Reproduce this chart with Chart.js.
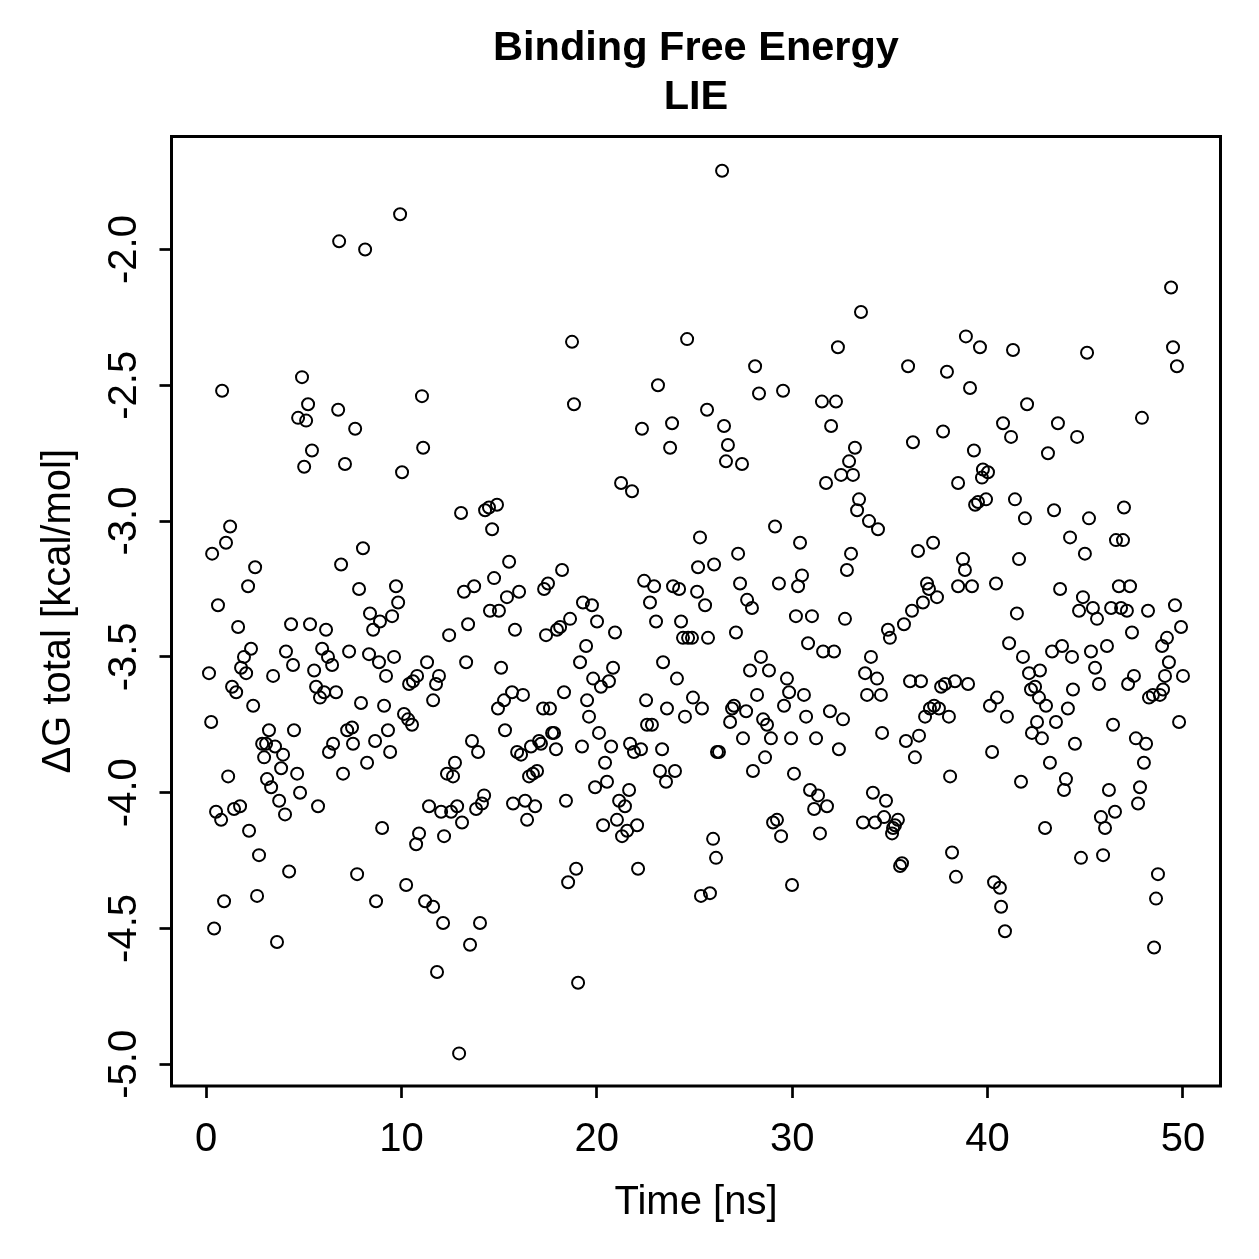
<!DOCTYPE html>
<html lang="en">
<head>
    <meta charset="UTF-8">
    <title>Binding Free Energy - LIE</title>
    <script src="https://cdn.jsdelivr.net/npm/chart.js"></script>
    <style>
        body { margin: 0; background: #fff; }
        #wrap { width: 1259px; height: 1259px; }
    </style>
</head>
<body>
<div id="wrap"><canvas id="lieChart" width="1259" height="1259"></canvas></div>

<script>
    // Time [ns] of each frame (grouped by region)
    const timeNs = [
        // upper band
        9.93,6.81,8.14,4.91,0.82,11.05,5.22,6.76,4.71,5.12,7.63,5.42,11.11,
        18.73,24.62,23.13,18.83,23.85,22.31,23.75,
        26.41,33.52,32.34,28.10,35.93,37.92,28.30,29.53,31.52,32.24,25.64,26.51,26.71,31.99,33.21,36.18,37.72,
        49.39,38.89,39.61,41.30,45.09,49.49,49.69,39.10,42.02,40.79,41.20,43.60,44.58,47.90,39.30,43.09,
        // 0 - 11 ns, middle
        5.02,7.11,10.03,1.23,1.02,0.31,8.03,6.91,2.51,2.15,
        7.83,9.72,9.83,0.61,8.39,8.90,9.52,8.55,1.64,4.35,
        5.32,6.14,2.30,1.94,4.09,5.94,6.24,6.45,4.45,7.32,
        8.34,8.85,9.62,0.15,1.79,2.05,3.43,5.53,9.21,11.31,
        10.80,10.59,10.39,1.33,1.54,5.63,6.04,5.83,6.65,2.41,
        7.93,9.11,0.26,10.13,10.34,10.54,3.22,4.50,2.87,3.07,
        3.53,3.94,2.97,3.84,7.22,7.47,7.52,6.50,6.29,8.65,
        9.31,9.42,8.24,
        // 0 - 11 ns, lower
        1.13,3.12,4.66,7.01,3.33,4.81,3.74,5.73,0.51,0.77,
        1.43,1.74,4.04,11.41,2.20,9.01,10.90,10.75,2.71,4.25,
        7.73,10.24,2.61,0.92,8.70,11.21,0.41,3.63,
        // 11 - 25 ns, lower
        12.33,12.64,16.53,16.73,16.94,23.23,24.00,23.54,12.03,12.54,
        12.85,13.10,13.82,14.12,14.23,12.18,15.71,16.33,16.84,16.43,
        18.42,19.91,20.52,21.65,21.14,21.44,21.03,20.32,21.55,21.29,
        22.06,18.94,18.53,22.11,11.62,12.13,14.02,13.51,11.82,19.04,
        12.95,
        // 25 - 39 ns, lower
        27.99,30.09,38.08,30.91,31.32,31.78,31.12,34.13,34.80,33.62,
        34.24,34.70,35.41,35.26,35.16,35.11,29.02,29.22,29.43,31.42,
        25.95,26.10,35.62,35.52,38.18,38.38,29.99,25.79,25.33,
        // 39 - 50 ns, lower
        41.71,44.01,43.91,46.21,47.80,47.70,46.52,45.80,46.01,42.94,
        45.91,44.78,48.72,48.62,48.52,40.33,40.63,40.69,40.89,
        // 11 - 25 ns, middle
        21.24,21.80,13.05,14.28,14.48,14.89,14.64,15.51,14.74,18.22,
        13.20,13.72,15.40,16.02,14.53,14.99,13.41,15.81,12.44,17.30,
        17.50,17.40,17.96,18.12,18.63,19.29,19.75,20.01,20.93,19.45,
        19.14,22.42,22.93,22.72,23.03,23.90,24.21,24.31,24.41,24.67,
        24.87,11.92,11.77,11.62,13.31,15.10,15.66,15.25,14.94,16.22,
        18.32,17.25,17.60,15.30,13.61,13.92,12.74,15.92,16.12,16.63,
        17.04,17.14,17.71,17.81,17.91,19.24,19.81,20.21,20.62,20.83,
        19.50,19.60,20.11,20.73,20.42,21.70,21.90,22.26,22.52,23.39,
        24.10,23.59,22.57,22.82,24.51,24.92,23.34,
        // 25 - 39 ns, middle
        26.61,27.43,32.91,32.50,33.11,31.73,38.49,33.42,33.32,33.93,
        34.39,29.12,25.28,30.40,27.23,26.00,25.18,33.01,32.80,36.44,
        37.21,38.74,38.84,38.49,25.13,27.33,29.32,30.50,30.30,27.69,
        27.94,25.54,36.90,37.00,37.41,36.69,36.13,35.72,34.90,35.00,
        30.19,31.01,32.70,27.12,25.69,30.81,31.58,32.14,34.03,33.73,
        34.34,33.83,34.54,28.40,27.84,28.81,29.73,29.84,30.60,29.58,
        28.20,25.38,26.92,27.02,27.64,26.82,28.51,28.71,30.71,31.93,
        32.60,27.48,28.91,29.94,31.22,34.60,36.03,36.59,37.62,37.82,
        38.33,37.05,37.26,37.51,36.80,38.02,35.82,36.49,36.28,26.25,
        26.15,28.61,32.39,
        // 39 - 50 ns, middle
        39.76,40.02,39.71,39.36,39.51,39.92,41.40,41.91,43.40,45.19,
        46.98,44.22,44.98,46.57,46.93,41.61,39.20,40.43,43.71,44.88,
        44.68,45.39,45.60,46.32,46.72,47.29,46.83,47.13,48.21,49.59,
        49.90,41.50,47.39,41.10,41.81,43.30,43.81,44.32,45.29,46.11,
        45.50,49.18,48.93,49.28,49.08,50.00,42.68,42.12,39.00,42.43,
        42.22,42.63,42.99,44.37,45.70,47.19,47.49,48.98,48.46,48.26,
        48.82,40.48,40.12,40.99,44.11,42.53,43.50,42.27,42.78,46.42,
        47.59,48.11,49.80,44.47,40.23,43.19,48.00
    ];

    // dG total [kcal/mol], same order as timeNs
    const dGTotal = [
        // upper band
        -1.87,-1.97,-2.00,-2.47,-2.52,-2.54,-2.57,-2.59,-2.62,-2.63,-2.66,-2.74,-2.73,
        -2.34,-2.33,-2.50,-2.57,-2.64,-2.66,-2.73,
        -1.71,-2.23,-2.36,-2.43,-2.43,-2.45,-2.53,-2.52,-2.56,-2.56,-2.59,-2.65,-2.72,-2.65,-2.73,-2.71,-2.67,
        -2.14,-2.32,-2.36,-2.37,-2.38,-2.36,-2.43,-2.51,-2.57,-2.64,-2.69,-2.64,-2.69,-2.62,-2.74,-2.75,
        // 0 - 11 ns, middle
        -2.80,-2.79,-2.82,-3.02,-3.08,-3.12,-3.10,-3.16,-3.17,-3.24,
        -3.25,-3.24,-3.30,-3.31,-3.34,-3.37,-3.35,-3.40,-3.39,-3.38,
        -3.38,-3.40,-3.47,-3.50,-3.48,-3.47,-3.50,-3.53,-3.53,-3.48,
        -3.49,-3.52,-3.50,-3.56,-3.54,-3.56,-3.57,-3.55,-3.57,-3.52,
        -3.57,-3.59,-3.60,-3.61,-3.63,-3.61,-3.63,-3.65,-3.63,-3.68,
        -3.67,-3.68,-3.74,-3.71,-3.73,-3.75,-3.77,-3.77,-3.82,-3.82,
        -3.83,-3.86,-3.87,-3.91,-3.77,-3.76,-3.82,-3.82,-3.85,-3.81,
        -3.77,-3.85,-3.89,
        // 0 - 11 ns, lower
        -3.94,-3.95,-3.93,-3.93,-3.98,-4.00,-4.03,-4.05,-4.07,-4.10,
        -4.06,-4.05,-4.08,-4.05,-4.14,-4.13,-4.15,-4.19,-4.23,-4.29,
        -4.30,-4.34,-4.38,-4.40,-4.40,-4.40,-4.50,-4.55,
        // 11 - 25 ns, lower
        -3.93,-3.94,-3.94,-3.93,-3.92,-3.92,-3.92,-3.96,-4.07,-4.07,
        -4.05,-4.11,-4.06,-4.04,-4.01,-4.16,-4.04,-4.03,-4.05,-4.10,
        -4.03,-3.98,-3.96,-3.99,-4.03,-4.05,-4.10,-4.12,-4.14,-4.16,
        -4.12,-4.28,-4.33,-4.28,-4.42,-4.48,-4.48,-4.56,-4.66,-4.70,
        -4.96,
        // 25 - 39 ns, lower
        -3.92,-3.93,-3.94,-3.99,-4.01,-4.05,-4.06,-4.00,-4.03,-4.11,
        -4.11,-4.09,-4.10,-4.12,-4.13,-4.15,-4.11,-4.10,-4.16,-4.15,
        -4.17,-4.24,-4.26,-4.27,-4.22,-4.31,-4.34,-4.37,-4.38,
        // 39 - 50 ns, lower
        -3.96,-3.95,-3.99,-3.99,-3.98,-4.04,-4.07,-4.09,-4.13,-4.13,
        -4.23,-4.24,-4.30,-4.39,-4.57,-4.33,-4.35,-4.42,-4.51,
        // 11 - 25 ns, middle
        -2.86,-2.89,-2.97,-2.96,-2.95,-2.94,-3.03,-3.15,-3.21,-3.18,
        -3.26,-3.24,-3.28,-3.26,-3.33,-3.33,-3.38,-3.40,-3.42,-3.25,
        -3.23,-3.42,-3.40,-3.39,-3.36,-3.30,-3.31,-3.37,-3.41,-3.46,
        -3.52,-3.22,-3.24,-3.30,-3.37,-3.24,-3.25,-3.37,-3.43,-3.43,
        -3.43,-3.57,-3.60,-3.66,-3.52,-3.54,-3.63,-3.66,-3.69,-3.64,
        -3.63,-3.69,-3.69,-3.77,-3.81,-3.85,-3.89,-3.85,-3.86,-3.83,
        -3.81,-3.82,-3.78,-3.78,-3.84,-3.83,-3.58,-3.61,-3.59,-3.54,
        -3.66,-3.72,-3.78,-3.83,-3.89,-3.82,-3.85,-3.84,-3.66,-3.52,
        -3.58,-3.69,-3.75,-3.75,-3.72,-3.65,-3.84,
        // 25 - 39 ns, middle
        -2.78,-2.79,-2.78,-2.83,-2.83,-2.86,-2.86,-2.92,-2.96,-3.00,
        -3.03,-3.02,-3.06,-3.08,-3.12,-3.16,-3.17,-3.12,-3.18,-3.11,
        -3.08,-3.14,-3.18,-3.24,-3.26,-3.23,-3.23,-3.20,-3.24,-3.29,
        -3.32,-3.31,-3.23,-3.25,-3.28,-3.30,-3.33,-3.38,-3.40,-3.43,
        -3.35,-3.35,-3.36,-3.41,-3.43,-3.45,-3.48,-3.48,-3.50,-3.56,
        -3.58,-3.64,-3.64,-3.50,-3.55,-3.55,-3.58,-3.63,-3.64,-3.68,
        -3.64,-3.69,-3.69,-3.68,-3.70,-3.74,-3.73,-3.75,-3.72,-3.70,
        -3.73,-3.80,-3.80,-3.80,-3.80,-3.78,-3.59,-3.59,-3.61,-3.60,
        -3.59,-3.69,-3.68,-3.69,-3.72,-3.72,-3.81,-3.79,-3.87,-3.85,
        -3.85,-3.87,-3.84,
        // 39 - 50 ns, middle
        -2.81,-2.82,-2.84,-2.94,-2.93,-2.92,-2.92,-2.99,-2.96,-2.99,
        -2.95,-3.06,-3.12,-3.07,-3.07,-3.14,-3.24,-3.23,-3.25,-3.28,
        -3.33,-3.32,-3.36,-3.32,-3.24,-3.24,-3.32,-3.33,-3.33,-3.31,
        -3.39,-3.34,-3.41,-3.45,-3.50,-3.48,-3.46,-3.50,-3.48,-3.46,
        -3.54,-3.43,-3.46,-3.52,-3.57,-3.57,-3.55,-3.56,-3.60,-3.61,
        -3.62,-3.65,-3.68,-3.62,-3.60,-3.60,-3.57,-3.62,-3.64,-3.65,
        -3.64,-3.65,-3.68,-3.72,-3.69,-3.74,-3.74,-3.78,-3.80,-3.75,
        -3.80,-3.82,-3.74,-3.82,-3.85,-3.89,-3.89
    ];

    const xTicks = [0, 10, 20, 30, 40, 50];
    const yTicks = [-5.0, -4.5, -4.0, -3.5, -3.0, -2.5, -2.0];
    const yTickLabels = ['-5.0', '-4.5', '-4.0', '-3.5', '-3.0', '-2.5', '-2.0'];
    const titleLines = ['Binding Free Energy', 'LIE'];
    const xTitle = 'Time [ns]';
    const yTitle = '\u0394G total [kcal/mol]';

    const FONT = '"Liberation Sans", Arial, Helvetica, sans-serif';

    // box, rotated y labels and the main title, like base R graphics
    const rFrame = {
        id: 'rFrame',
        afterDraw(chart) {
            const ctx = chart.ctx;
            const a = chart.chartArea;
            const y = chart.scales.y;
            ctx.save();
            ctx.strokeStyle = '#000';
            ctx.lineWidth = 3;
            ctx.strokeRect(a.left, a.top, a.right - a.left, a.bottom - a.top);

            ctx.fillStyle = '#000';
            ctx.textAlign = 'center';
            ctx.textBaseline = 'alphabetic';
            ctx.font = '40px ' + FONT;
            yTicks.forEach((v, i) => {
                ctx.save();
                ctx.translate(a.left - 35.5, y.getPixelForValue(v));
                ctx.rotate(-Math.PI / 2);
                ctx.fillText(yTickLabels[i], 0, 0);
                ctx.restore();
            });

            ctx.save();
            ctx.translate(a.left - 101.5, (a.top + a.bottom) / 2);
            ctx.rotate(-Math.PI / 2);
            ctx.fillText(yTitle, 0, 0);
            ctx.restore();

            ctx.font = 'bold 41.5px ' + FONT;
            const cx = (a.left + a.right) / 2;
            ctx.fillText(titleLines[0], cx, 60);
            ctx.fillText(titleLines[1], cx, 109);
            ctx.restore();
        }
    };

    const points = timeNs.map((t, i) => ({ x: t, y: dGTotal[i] }));

    const config = {
        type: 'scatter',
        data: {
            datasets: [{
                data: points,
                pointStyle: 'circle',
                pointRadius: 6,
                pointHoverRadius: 6,
                pointBorderWidth: 2,
                borderColor: '#000',
                backgroundColor: 'rgba(0,0,0,0)'
            }]
        },
        options: {
            responsive: false,
            animation: false,
            events: [],
            layout: { padding: { top: 136.5, right: 38.5, bottom: 32, left: 0 } },
            plugins: {
                legend: { display: false },
                tooltip: { enabled: false },
                title: { display: false }
            },
            scales: {
                x: {
                    type: 'linear',
                    min: -1.77,
                    max: 51.92,
                    afterBuildTicks: s => { s.ticks = xTicks.map(v => ({ value: v })); },
                    afterFit: s => { s.height = 141; },
                    ticks: {
                        color: '#000',
                        font: { family: FONT, size: 40, lineHeight: 1.2 },
                        padding: 18,
                        maxRotation: 0,
                        autoSkip: false
                    },
                    grid: {
                        drawOnChartArea: false,
                        drawTicks: true,
                        tickLength: 12,
                        tickColor: '#000',
                        tickWidth: 2.7
                    },
                    border: { display: false },
                    title: {
                        display: true,
                        text: xTitle,
                        color: '#000',
                        font: { family: FONT, size: 40, lineHeight: 1.2 },
                        padding: { top: 15, bottom: 0 }
                    }
                },
                y: {
                    type: 'linear',
                    min: -5.08,
                    max: -1.584,
                    afterBuildTicks: s => { s.ticks = yTicks.map(v => ({ value: v })); },
                    afterFit: s => { s.width = 171.5; },
                    ticks: { display: false },
                    grid: {
                        drawOnChartArea: false,
                        drawTicks: true,
                        tickLength: 12,
                        tickColor: '#000',
                        tickWidth: 2.7
                    },
                    border: { display: false }
                }
            }
        },
        plugins: [rFrame]
    };

    new Chart(document.getElementById('lieChart').getContext('2d'), config);
</script>
</body>
</html>
